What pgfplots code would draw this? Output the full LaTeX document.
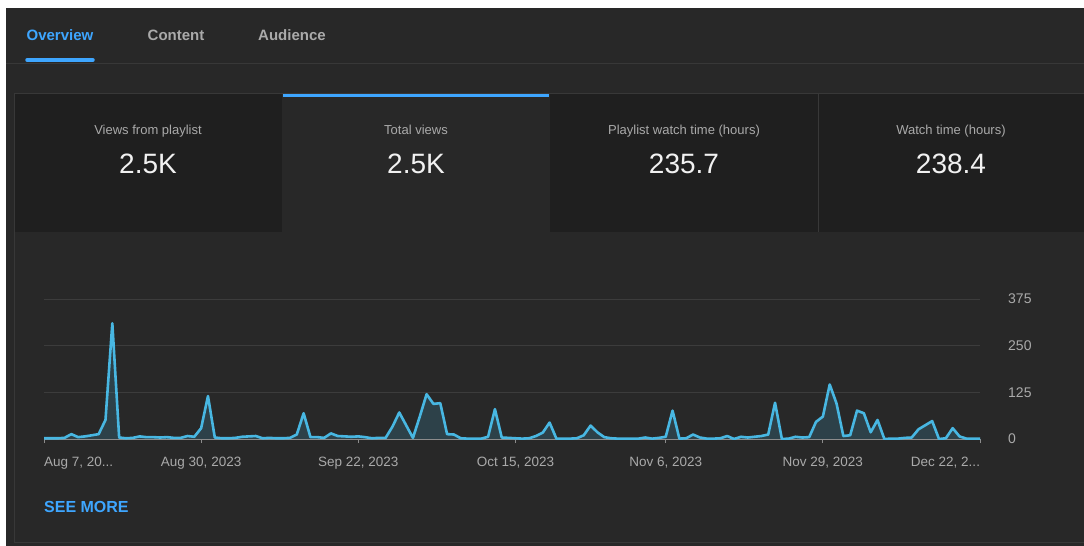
\documentclass[border=0pt]{standalone}
\usepackage{fontspec}
\setmainfont{Liberation Sans}
\usepackage{pgfplots}
\pgfplotsset{compat=1.18}
\usepackage{pgfplotstable}
\definecolor{bg}{HTML}{282828}
\definecolor{card}{HTML}{1F1F1F}
\definecolor{sep}{HTML}{383838}
\definecolor{ytblue}{HTML}{3EA6FF}
\definecolor{linec}{RGB}{72,183,226}
\definecolor{labgray}{HTML}{AAAAAA}
\definecolor{valc}{HTML}{F1F1F1}
\definecolor{gridc}{HTML}{3C3C3C}
\definecolor{basec}{HTML}{8C8C8C}

\pgfplotstableread{
d v
0 2
1 2
2 2
3 3
4 13
5 5
6 7
7 10
8 13
9 51
10 310
11 4
12 2
13 3
14 7
15 5
16 5
17 4
18 5
19 3
20 3
21 8
22 6
23 29
24 115
25 4
26 2
27 2
28 3
29 6
30 7
31 8
32 2
33 3
34 2
35 2
36 3
37 12
38 69
39 5
40 5
41 3
42 15
43 8
44 7
45 6
46 7
47 5
48 2
49 3
50 3
51 33
52 71
53 37
54 3
55 60
56 120
57 94
58 96
59 13
60 12
61 2
62 1
63 1
64 1
65 6
66 80
67 4
68 3
69 2
70 1
71 2
72 8
73 17
74 44
75 1
76 1
77 1
78 2
79 10
80 36
81 18
82 5
83 2
84 1
85 1
86 1
87 1
88 4
89 1
90 3
91 6
92 76
93 1
94 2
95 12
96 4
97 1
98 1
99 2
100 8
101 0
102 6
103 4
104 6
105 8
106 12
107 97
108 0
109 1
110 6
111 4
112 5
113 46
114 60
115 146
116 95
117 8
118 10
119 76
120 69
121 18
122 51
123 0
124 1
125 1
126 3
127 4
128 26
129 37
130 48
131 0
132 2
133 29
134 7
135 1
136 1
137 1
}\views

\begin{document}
\begin{tikzpicture}[x=1pt,y=1pt]
\begin{scope}[yscale=-1]
\useasboundingbox (0,0) rectangle (1084,546);
\fill[white] (0,0) rectangle (1084,546);
\fill[bg] (6,8) rectangle (1084,546);
% tab bar
\draw[sep, line width=1pt] (6,63.5) -- (1084,63.5);
\node[anchor=base, inner sep=0pt, text=ytblue, font=\fontsize{15}{18}\selectfont\bfseries] at (60,40) {Overview};
\node[anchor=base, inner sep=0pt, text=labgray, font=\fontsize{15}{18}\selectfont\bfseries] at (176,40) {Content};
\node[anchor=base, inner sep=0pt, text=labgray, font=\fontsize{15}{18}\selectfont\bfseries] at (292,40) {Audience};
\draw[ytblue, line width=3.5pt, line cap=round] (27,60) -- (93,60);
% panel
\draw[sep, line width=1pt] (14.5,542.5) -- (14.5,93.5) -- (1084,93.5);
\draw[sep, line width=1pt] (14.5,542.5) -- (1084,542.5);
% cards
\fill[card] (15,94) rectangle (282,232);
\fill[card] (550,94) rectangle (818,232);
\fill[card] (819,94) rectangle (1084,232);
\draw[sep, line width=1pt] (818.5,94) -- (818.5,232);
\fill[ytblue] (283,94) rectangle (549,97);
% card texts
\foreach \cx/\lab/\val in {148/Views from playlist/2.5K, 416/Total views/2.5K, 684/Playlist watch time (hours)/235.7, 951/Watch time (hours)/238.4}{
  \node[anchor=base, inner sep=0pt, text=labgray, font=\fontsize{13}{15}\selectfont] at (\cx,134) {\lab};
  \node[anchor=base, inner sep=0pt, text=valc, font=\fontsize{28}{32}\selectfont] at (\cx,173) {\val};
}
% see more
\node[anchor=base west, inner sep=0pt, text=ytblue, font=\fontsize{16}{18}\selectfont\bfseries] at (44,512) {SEE MORE};
\end{scope}

\begin{axis}[
  at={(44pt,-439pt)}, anchor=south west,
  scale only axis, width=936pt, height=140pt,
  xmin=0, xmax=137, ymin=0, ymax=375,
  axis line style={draw=none},
  ytick={0,125,250,375},
  ymajorgrids, grid style={gridc, line width=1pt},
  yticklabel pos=right,
  ytick style={draw=none},
  yticklabel style={anchor=west, inner sep=0pt, xshift=24pt, text=labgray, font=\fontsize{14}{16}\selectfont},
  /pgf/number format/assume math mode=true,
  xtick={0,23,46,69,91,114,137},
  xticklabels={\rlap{Aug 7, 20...}, {Aug 30, 2023}, {Sep 22, 2023}, {Oct 15, 2023}, {Nov 6, 2023}, {Nov 29, 2023}, \llap{Dec 22, 2...}},
  xtick pos=bottom, tick align=outside,
  xtick style={basec, line width=0.8pt},
  major tick length=4pt,
  xticklabel style={anchor=base, inner sep=0pt, yshift=-23pt, text=labgray, font=\fontsize{13.5}{16}\selectfont},
]
\addplot[draw=none, fill=linec, fill opacity=0.18] table[x=d, y=v] {\views} \closedcycle;
\draw[basec, line width=1pt] (axis cs:0,0) -- (axis cs:137,0);
\addplot[linec, line width=2.6pt, line join=round, mark=none] table[x=d, y=v] {\views};
\end{axis}
\end{tikzpicture}
\end{document}
